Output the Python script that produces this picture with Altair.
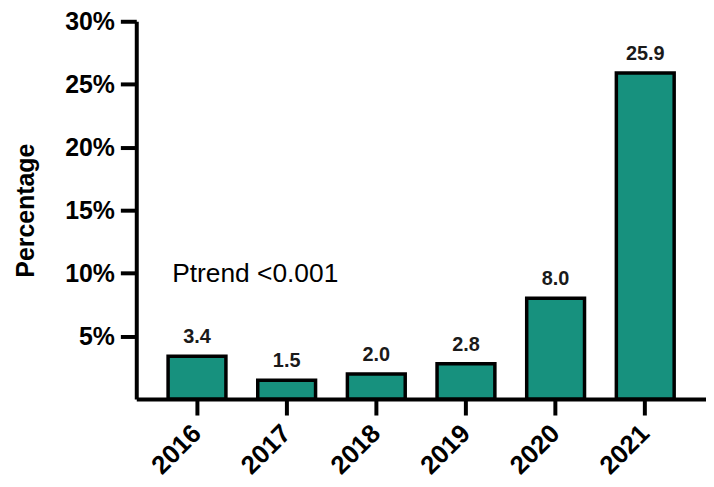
import altair as alt
import pandas as pd

years = ["2016", "2017", "2018", "2019", "2020", "2021"]
values = [3.4, 1.5, 2.0, 2.8, 8.0, 25.9]
labels = ["3.4", "1.5", "2.0", "2.8", "8.0", "25.9"]
y_ticks = [5, 10, 15, 20, 25, 30]
annotation = "Ptrend <0.001"

df = pd.DataFrame({"year": years, "value": values, "label": labels})
FONT = "Liberation Sans"

x_enc = alt.X("year:N", sort=years,
              scale=alt.Scale(paddingInner=0.355, paddingOuter=0.355),
              axis=alt.Axis(title=None, labelAngle=-45, labelAlign="right",
                            labelBaseline="middle", labelFontSize=26,
                            labelFontWeight="bold", labelFont=FONT,
                            labelColor="black", labelPadding=14,
                            domainColor="black", domainWidth=4,
                            tickColor="black", tickWidth=4, tickSize=16))
y_enc = alt.Y("value:Q",
              scale=alt.Scale(domain=[0, 30], nice=False, zero=True),
              axis=alt.Axis(title="Percentage", values=y_ticks,
                            labelExpr="datum.value + '%'",
                            labelFontSize=25, labelFontWeight="bold",
                            labelFont=FONT, labelColor="black", labelPadding=6,
                            titleFontSize=25, titleFontWeight="bold",
                            titleFont=FONT, titleColor="black", titlePadding=26,
                            domainColor="black", domainWidth=4,
                            tickColor="black", tickWidth=4, tickSize=16,
                            grid=False))

bars = alt.Chart(df).mark_bar(color="#17917E", stroke="black",
                              strokeWidth=3.5).encode(x=x_enc, y=y_enc)

text = alt.Chart(df).mark_text(baseline="bottom", dy=-9, fontSize=20,
                               fontWeight="bold", font=FONT,
                               color="#1a1a1a").encode(
    x=alt.X("year:N", sort=years), y="value:Q", text="label:N")

ann = alt.Chart(pd.DataFrame({"year": [years[0]], "value": [9.9],
                              "t": [annotation]})).mark_text(
    align="left", baseline="middle", dx=-25, fontSize=26.5, font=FONT,
    color="black").encode(x=alt.X("year:N", sort=years), y="value:Q", text="t:N")

chart = alt.layer(bars, text, ann).properties(
    width=573, height=380,
    autosize=alt.AutoSizeParams(type="none"),
    padding={"left": 129, "top": 12, "right": 0, "bottom": 79},
).configure_view(stroke=None)

chart.save("out.html", embed_options={"renderer": "svg", "actions": False})
